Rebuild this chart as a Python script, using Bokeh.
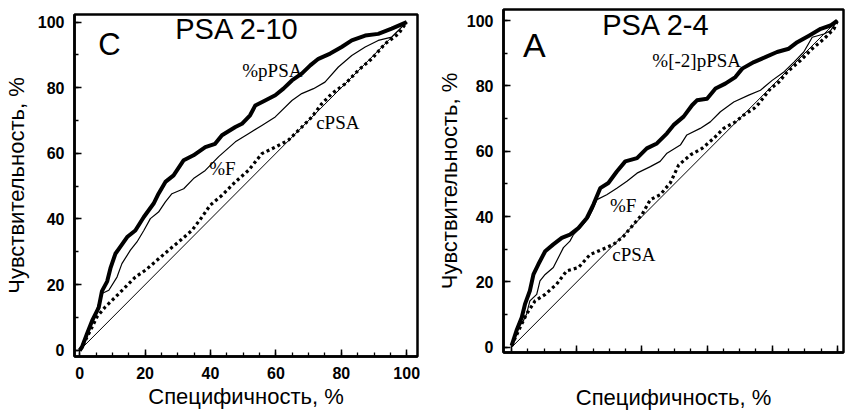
from bokeh.plotting import figure
from bokeh.layouts import row
from bokeh.models import Range1d, FixedTicker
from bokeh.core.properties import value
from bokeh.embed import file_html
from bokeh.resources import INLINE

# ---------------- data: panel C (PSA 2-10) ----------------
c_ppsa_x = [0, 0.7, 2.2, 3.8, 5.8, 6.8, 8.4, 9.4, 10.9, 12.4, 14.5, 17.0, 19.6, 22.6, 24.1, 26.2, 28.7,
            31.8, 34.8, 38.4, 41.4, 43.5, 47.6, 49.6, 52.1, 53.7, 56.7, 59.8, 62.3, 64.9, 67.9, 70.5,
            73.0, 76.6, 80.1, 83.2, 87.3, 91.3, 95.4, 100]
c_ppsa_y = [0, 1, 5, 9, 13, 18, 21, 25, 29.4, 31.5, 34.5, 36.5, 40.6, 44.7, 47.7, 51.3, 53.3,
            57.9, 59.4, 61.9, 62.9, 65.5, 68, 69, 71.6, 74.6, 76.1, 77.7, 79.7, 82.2, 84.3, 86.8,
            88.8, 90.4, 92.4, 94.4, 95.9, 96.4, 98, 100]

c_pf_x = [0, 0.7, 2.7, 4.8, 6.8, 8.9, 11.4, 12.9, 15.5, 17.5, 19.6, 21.6, 24.1, 26.2, 28.2, 31.8,
          34.8, 38.4, 42.5, 47.6, 51.6, 55.7, 59.8, 64.9, 67.9, 71.5, 75.0, 79.1, 83.2, 87.3, 91.3,
          95.4, 100]
c_pf_y = [0, 1, 6.6, 11.2, 17.3, 18.3, 22.3, 26.4, 30.5, 33, 36.5, 40.1, 42.1, 45.2, 47.7, 49.2,
          52.3, 54.8, 59, 63.5, 66, 68.5, 71.1, 76.1, 78.2, 79.7, 81.7, 86.3, 89.8, 92.4, 94.4,
          95.4, 100]

c_cpsa_x = [0, 0.7, 3.3, 5.3, 7.8, 10.9, 14.0, 17.0, 20.1, 23.6, 27.2, 30.8, 34.3, 37.4, 39.9, 43.5,
            47.6, 51.6, 55.7, 59.8, 63.8, 67.9, 71.0, 74.0, 77.1, 81.2, 85.2, 89.3, 93.4, 97.5, 100]
c_cpsa_y = [0, 1, 6.1, 10.2, 13.2, 16.2, 19.3, 22.3, 24.4, 27.4, 30.5, 33.5, 36.5, 40.6, 44.2, 47.2,
            51.3, 54.8, 59.9, 61.9, 64, 68, 71.1, 75.1, 78.2, 81.2, 85.3, 88.8, 93.4, 96.4, 100]

# ---------------- data: panel A (PSA 2-4) ----------------
a_ppsa_x = [0, 1.5, 3.1, 4.1, 5.6, 6.7, 8.2, 10.3, 12.8, 15.4, 17.9, 20.5, 23.1, 25.1, 27.2, 29.7,
            32.3, 34.9, 38.5, 41.5, 44.6, 47.7, 49.7, 52.8, 55.4, 56.9, 60.0, 62.6, 65.6, 68.7, 70.8,
            74.4, 77.9, 81.5, 85.1, 87.7, 91.3, 94.9, 97.9, 100]
a_ppsa_y = [0.5, 5.1, 9.1, 13.2, 17.3, 22.3, 25.4, 29.4, 31.5, 33.5, 34.5, 36.5, 39.6, 43.7, 48.7, 50.3,
            53.8, 56.9, 57.9, 60.9, 62.4, 65.5, 68, 70.6, 74.1, 75.6, 76.1, 79.2, 80.7, 82.7, 85.3,
            87.3, 88.8, 90.4, 91.4, 93.4, 95.4, 97.5, 98.5, 100]

a_pf_x = [0, 2.1, 3.6, 4.6, 5.6, 7.7, 8.7, 10.3, 12.8, 15.9, 17.9, 19.0, 21.0, 23.6, 25.1, 26.2,
          29.2, 32.3, 35.4, 38.5, 42.6, 45.6, 47.7, 51.8, 53.8, 57.9, 61.0, 64.1, 68.2, 72.8, 76.4,
          80.0, 83.6, 86.7, 89.7, 92.3, 95.9, 97.9, 100]
a_pf_y = [0.5, 6.1, 8.1, 10.2, 14.2, 16.2, 20.3, 22.3, 24.4, 30.5, 32.5, 34.5, 36.5, 39.6, 42.6, 45.2,
          46.7, 48.7, 50.8, 53.3, 55.3, 56.9, 59.4, 61.9, 65, 67, 69, 72.1, 75.1, 77.2, 78.7,
          81.7, 84.3, 87.3, 90.4, 94.9, 95.9, 96.9, 100]

a_cpsa_x = [0, 2.6, 4.6, 7.2, 10.3, 13.8, 16.9, 20.5, 24.1, 27.7, 31.3, 34.4, 37.4, 40.0, 42.6, 45.6,
            48.7, 51.3, 54.9, 58.5, 62.1, 65.1, 68.7, 71.3, 74.4, 75.9, 79.5, 82.1, 84.6, 88.7, 92.3,
            95.9, 99.0, 100]
a_cpsa_y = [0.5, 6.1, 10.2, 14.2, 16.2, 19.3, 23.4, 24.4, 28.4, 29.9, 31.5, 34, 37.6, 40.6, 45.2, 46.7,
            50.3, 55.8, 58.9, 60.9, 64, 67, 69, 71.1, 73.1, 74.6, 79.2, 81.2, 84.3, 87.8, 91.4,
            94.4, 97.5, 100]

diag_x = [0, 100]
diag_y = [0, 100]

x_major = [0, 20, 40, 60, 80, 100]
x_minor = list(range(0, 101, 5))
y_major = [0, 20, 40, 60, 80, 100]
y_minor = list(range(0, 101, 10))

x_title = "Специфичность, %"
y_title = "Чувствительность, %"

SANS = "Liberation Sans"
SERIF = "Liberation Serif"


def style_axes(p, show_x_labels=True):
    p.xaxis.ticker = FixedTicker(ticks=x_major, minor_ticks=x_minor)
    p.yaxis.ticker = FixedTicker(ticks=y_major, minor_ticks=y_minor)
    for ax in (p.xaxis[0], p.yaxis[0]):
        ax.axis_line_width = 2.5
        ax.axis_line_color = "black"
        ax.major_tick_in = 7
        ax.major_tick_out = 0
        ax.minor_tick_in = 4
        ax.minor_tick_out = 0
        ax.major_tick_line_width = 1.5
        ax.minor_tick_line_width = 1.3
        ax.major_tick_line_color = "black"
        ax.minor_tick_line_color = "black"
        ax.major_label_text_font = SANS
        ax.major_label_text_font_size = "16px"
        ax.major_label_text_font_style = "bold"
        ax.major_label_text_color = "black"
        ax.axis_label_text_font = SANS
        ax.axis_label_text_font_size = "22px"
        ax.axis_label_text_font_style = "normal"
        ax.axis_label_text_color = "black"
    p.xaxis.axis_label = x_title
    p.yaxis.axis_label = y_title
    if show_x_labels:
        p.xaxis.major_label_standoff = 10
        p.xaxis.axis_label_standoff = 2
    else:
        p.xaxis.major_label_overrides = {t: "" for t in x_major}
        p.xaxis.major_label_standoff = 0
        p.xaxis.axis_label_standoff = 32
    p.xgrid.visible = False
    p.ygrid.visible = False
    p.outline_line_color = "black"
    p.outline_line_width = 2.5
    p.outline_line_alpha = 1.0
    p.background_fill_color = "white"
    p.border_fill_color = "white"


def draw_curves(p, px, py, fx, fy, cx, cy):
    p.line(diag_x, diag_y, line_color="black", line_width=1.0)
    p.line(cx, cy, line_color="black", line_width=3.2, line_dash="3 3")
    p.line(fx, fy, line_color="black", line_width=1.2, line_join="round")
    p.line(px, py, line_color="black", line_width=4.0, line_join="round")


# ---------------- left panel ----------------
p1 = figure(width=420, height=412, x_range=Range1d(-1.6, 103.3), y_range=Range1d(-1.9, 102.3),
            output_backend="svg", toolbar_location=None, frame_align=False,
            min_border_left=73, min_border_right=3, min_border_top=14, min_border_bottom=56)
style_axes(p1, True)
p1.yaxis.major_label_standoff = 10
p1.yaxis.axis_label_standoff = 6
draw_curves(p1, c_ppsa_x, c_ppsa_y, c_pf_x, c_pf_y, c_cpsa_x, c_cpsa_y)
p1.text(x=[5.7], y=[93.2], text=["C"], text_font=value(SANS), text_font_size="31px",
        text_align="left", text_baseline="middle", text_color="black")
p1.text(x=[29.2], y=[98.0], text=["PSA 2-10"], text_font=value(SANS), text_font_size="29px",
        text_align="left", text_baseline="middle", text_color="black")
p1.text(x=[49.7, 39.6, 72.3], y=[85.3, 55.4, 69.4], text=["%pPSA", "%F", "cPSA"],
        text_font=value(SERIF), text_font_size="19px",
        text_align="left", text_baseline="middle", text_color="black")

# ---------------- right panel ----------------
p2 = figure(width=426, height=412, x_range=Range1d(-2.5, 101.9), y_range=Range1d(-1.6, 103.4),
            output_backend="svg", toolbar_location=None, frame_align=False,
            min_border_left=83, min_border_right=3, min_border_top=9, min_border_bottom=60)
style_axes(p2, False)
p2.yaxis.major_label_standoff = 10
p2.yaxis.axis_label_standoff = 2
draw_curves(p2, a_ppsa_x, a_ppsa_y, a_pf_x, a_pf_y, a_cpsa_x, a_cpsa_y)
p2.text(x=[3.5], y=[92.5], text=["A"], text_font=value(SANS), text_font_size="34px",
        text_align="left", text_baseline="middle", text_color="black")
p2.text(x=[27.8], y=[98.7], text=["PSA 2-4"], text_font=value(SANS), text_font_size="29px",
        text_align="left", text_baseline="middle", text_color="black")
p2.text(x=[43.2, 30.2, 30.9], y=[87.9, 43.5, 28.4], text=["%[-2]pPSA", "%F", "cPSA"],
        text_font=value(SERIF), text_font_size="19px",
        text_align="left", text_baseline="middle", text_color="black")

layout = row(p1, p2)
open("out.html", "w").write(file_html(layout, INLINE))
